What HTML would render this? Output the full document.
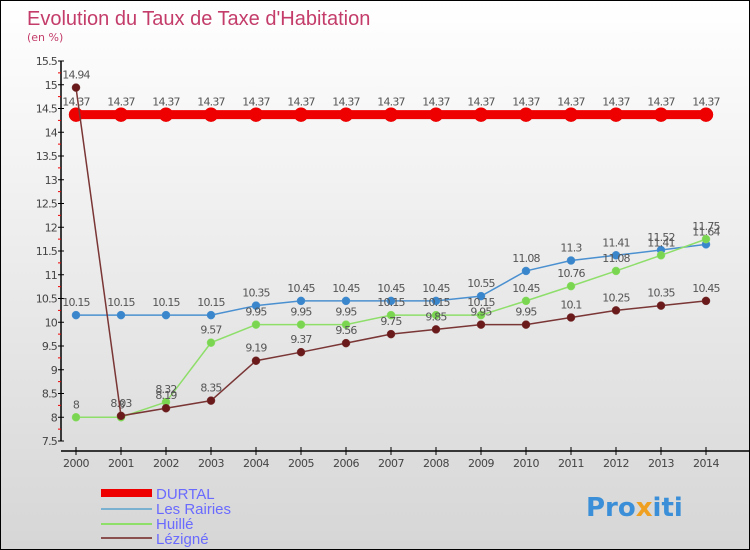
<!DOCTYPE html>
<html><head><meta charset="utf-8"><style>
body{margin:0}
#c{width:748px;height:548px;border:1px solid #000;background:linear-gradient(#fff,#d6d6d6);position:relative;overflow:hidden;font-family:"DejaVu Sans","Liberation Sans",sans-serif}
</style></head><body>
<div id="c">
<svg id="s" width="748" height="548" xmlns="http://www.w3.org/2000/svg">
<text x="26" y="24" font-size="20" fill="#c43d6a" font-family="Liberation Sans, sans-serif">Evolution du Taux de Taxe d'Habitation</text>
<text x="26" y="40" font-size="11" fill="#c43d6a">(en %)</text>
<g id="g"></g>
<g font-size="15" font-family="Liberation Sans, sans-serif">
<rect x="100" y="488" width="51" height="8" fill="#e00"/>
<text x="155" y="498" fill="#6a6aff">DURTAL</text>
<line x1="100" y1="508" x2="151" y2="508" stroke="#7ab0d0" stroke-width="2"/>
<text x="155" y="513" fill="#6a6aff">Les Rairies</text>
<line x1="100" y1="523" x2="151" y2="523" stroke="#8ede6a" stroke-width="2"/>
<text x="155" y="528" fill="#6a6aff">Huillé</text>
<line x1="100" y1="537" x2="151" y2="537" stroke="#8a5050" stroke-width="2"/>
<text x="155" y="543" fill="#6a6aff">Lézigné</text>
</g>
<text x="585" y="515" font-size="26" font-weight="bold" fill="#3a8fd8">Pro<tspan fill="#f0a020">x</tspan>iti</text>
</svg>
</div>
<script>
const years=[2000,2001,2002,2003,2004,2005,2006,2007,2008,2009,2010,2011,2012,2013,2014];
const durtal=[14.37,14.37,14.37,14.37,14.37,14.37,14.37,14.37,14.37,14.37,14.37,14.37,14.37,14.37,14.37];
const lesRairies=[10.15,10.15,10.15,10.15,10.35,10.45,10.45,10.45,10.45,10.55,11.08,11.3,11.41,11.52,11.64];
const huille=[8,8,8.32,9.57,9.95,9.95,9.95,10.15,10.15,10.15,10.45,10.76,11.08,11.41,11.75];
const lezigne=[14.94,8.03,8.19,8.35,9.19,9.37,9.56,9.75,9.85,9.95,9.95,10.1,10.25,10.35,10.45];
const yTicks=[7.5,8,8.5,9,9.5,10,10.5,11,11.5,12,12.5,13,13.5,14,14.5,15,15.5];
const NS="http://www.w3.org/2000/svg";
const g=document.getElementById('g');
const X=i=>75+i*45;
const Y=v=>440-(v-7.5)*(380/8);
function mk(t,a,p){const e=document.createElementNS(NS,t);for(const k in a)e.setAttribute(k,a[k]);(p||g).appendChild(e);return e;}
let ax=mk('line',{x1:60,y1:60,x2:60,y2:440,stroke:'#000','stroke-width':1.5});


let xa=mk('line',{x1:60,y1:450,x2:748,y2:450,stroke:'#000','stroke-width':1.5});


yTicks.forEach((v,i)=>{
  mk('line',{x1:57,y1:Y(v),x2:63,y2:Y(v),stroke:'#000'});
  if(i<yTicks.length-1)mk('line',{x1:57,y1:Y(v+0.25),x2:60,y2:Y(v+0.25),stroke:'#e00'});
  const t=mk('text',{x:56,y:Y(v)+4,'font-size':11,fill:'#444','text-anchor':'end','letter-spacing':'-0.8'});
  t.textContent=v;
  
  
});
years.forEach((yr,i)=>{
  mk('line',{x1:X(i),y1:446,x2:X(i),y2:454,stroke:'#000'});
  const t=mk('text',{x:X(i),y:466,'font-size':11,fill:'#444','text-anchor':'middle','letter-spacing':'-0.5'});
  t.textContent=yr;
  
  
});
function series(vals,color,dot,w,r,name){
  const sg=mk('g',{});
  
  
  const p=mk('polyline',{points:vals.map((v,i)=>X(i)+','+Y(v)).join(' '),fill:'none',stroke:color,'stroke-width':w},sg);
  
  
  vals.forEach((v,i)=>{
    const c=mk('circle',{cx:X(i),cy:Y(v),r:r,fill:dot,stroke:color,'stroke-width':0.5},sg);
    
    
    const t=mk('text',{x:X(i),y:Y(v)-9,'font-size':11,fill:'#555','text-anchor':'middle','letter-spacing':'-0.8'},sg);
    t.textContent=v;
    
    
  });
}
series(durtal,'#e00','#e00',9,7,'durtal');
series(lesRairies,'#4a90d0','#3a86cc',1.5,4,'les-rairies');
series(huille,'#8ede6a','#7ad650',1.5,4,'huille');
series(lezigne,'#7a3535','#6a1a1a',1.5,4,'lezigne');
</script>
</body></html>
